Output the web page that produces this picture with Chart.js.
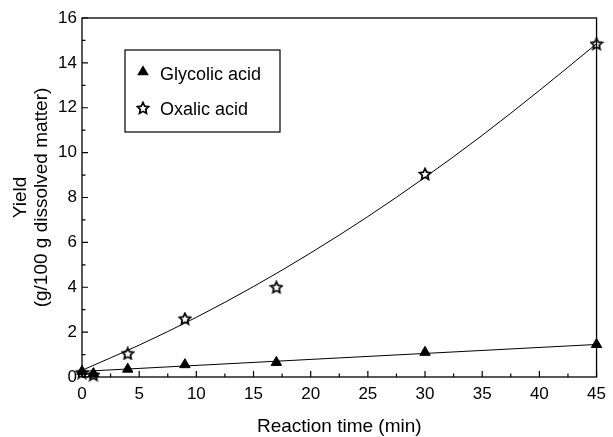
<!DOCTYPE html>
<html>
<head>
<script src="https://cdn.jsdelivr.net/npm/chart.js"></script>
<style>
  body { margin: 0; background: #fff; }
  #wrap { width: 613px; height: 437px; }
</style>
</head>
<body>
<div id="wrap"><canvas id="yieldChart" width="613" height="437"></canvas></div>
<script>
// measured points
const times = [0, 1, 4, 9, 17, 30, 45];
const glycolic = [0.25, 0.15, 0.35, 0.55, 0.65, 1.1, 1.45];
const oxalic = [0.2, 0.1, 1.05, 2.6, 4.0, 9.05, 14.85];

// fitted curves
const glycolicFitX = [0, 45];
const glycolicFitY = [0.25, 1.45];
const oxalicFitX = [0, 5, 10, 15, 20, 25, 30, 35, 40, 45];
const oxalicFitY = [0.3, 1.42, 2.66, 4.03, 5.53, 7.15, 8.9, 10.77, 12.77, 14.85];

const xMajor = [0, 5, 10, 15, 20, 25, 30, 35, 40, 45];
const xMinor = [2.5, 7.5, 12.5, 17.5, 22.5, 27.5, 32.5, 37.5, 42.5];
const yMajor = [0, 2, 4, 6, 8, 10, 12, 14, 16];
const yMinor = [1, 3, 5, 7, 9, 11, 13, 15];

const FONT = "'Liberation Sans', Arial, sans-serif";

function pts(xs, ys) {
  return xs.map((x, i) => ({ x: x, y: ys[i] }));
}

// hollow five pointed star marker
function makeStar(size) {
  const c = document.createElement("canvas");
  c.width = size; c.height = size;
  const g = c.getContext("2d");
  const cx = size / 2, cy = size / 2 + 0.5, ro = size / 2 - 1, ri = ro * 0.48;
  g.beginPath();
  for (let i = 0; i < 10; i++) {
    const r = i % 2 === 0 ? ro : ri;
    const a = -Math.PI / 2 + i * Math.PI / 5;
    const px = cx + r * Math.cos(a), py = cy + r * Math.sin(a);
    if (i === 0) g.moveTo(px, py); else g.lineTo(px, py);
  }
  g.closePath();
  g.lineWidth = 1.7;
  g.strokeStyle = "#000";
  g.stroke();
  return c;
}
const star = makeStar(14);

// inner ticks, frame and legend box
const framePlugin = {
  id: "frame",
  afterDraw(chart) {
    const ctx = chart.ctx;
    const a = chart.chartArea;
    const xs = chart.scales.x, ys = chart.scales.y;
    ctx.save();
    ctx.strokeStyle = "#000";
    ctx.lineWidth = 1.3;
    ctx.strokeRect(a.left, a.top, a.right - a.left, a.bottom - a.top);
    ctx.lineWidth = 1.2;
    ctx.beginPath();
    xMajor.forEach(v => { const p = xs.getPixelForValue(v); ctx.moveTo(p, a.bottom); ctx.lineTo(p, a.bottom - 6); });
    xMinor.forEach(v => { const p = xs.getPixelForValue(v); ctx.moveTo(p, a.bottom); ctx.lineTo(p, a.bottom - 3.5); });
    yMajor.forEach(v => { const p = ys.getPixelForValue(v); ctx.moveTo(a.left, p); ctx.lineTo(a.left + 6, p); });
    yMinor.forEach(v => { const p = ys.getPixelForValue(v); ctx.moveTo(a.left, p); ctx.lineTo(a.left + 3.5, p); });
    ctx.stroke();

    // legend
    const bx = 125, by = 50, bw = 155, bh = 82;
    ctx.lineWidth = 1.2;
    ctx.strokeRect(bx, by, bw, bh);
    ctx.fillStyle = "#000";
    ctx.font = "18px " + FONT;
    ctx.textBaseline = "middle";
    Chart.helpers.drawPoint(ctx, { pointStyle: "triangle", radius: 5.5, borderWidth: 1 }, bx + 18, by + 22);
    ctx.fillStyle = "#000";
    ctx.fillText("Glycolic acid", bx + 35, by + 25);
    ctx.drawImage(star, bx + 18 - 7, by + 58 - 7);
    ctx.fillText("Oxalic acid", bx + 35, by + 60);
    ctx.restore();
  }
};

const chart = new Chart(document.getElementById("yieldChart"), {
  type: "scatter",
  data: {
    datasets: [
      {
        label: "Glycolic acid",
        data: pts(times, glycolic),
        pointStyle: "triangle",
        pointRadius: 6,
        backgroundColor: "#000",
        borderColor: "#000",
        borderWidth: 1,
        clip: false
      },
      {
        label: "Oxalic acid",
        data: pts(times, oxalic),
        pointStyle: star,
        pointRadius: 7,
        clip: false
      },
      {
        label: "Glycolic fit",
        data: pts(glycolicFitX, glycolicFitY),
        showLine: true,
        pointRadius: 0,
        borderColor: "#000",
        borderWidth: 1
      },
      {
        label: "Oxalic fit",
        data: pts(oxalicFitX, oxalicFitY),
        showLine: true,
        pointRadius: 0,
        borderColor: "#000",
        borderWidth: 1,
        cubicInterpolationMode: "monotone"
      }
    ]
  },
  options: {
    responsive: false,
    animation: false,
    layout: { padding: { top: 18, right: 12, left: 0, bottom: 0 } },
    plugins: { legend: { display: false }, tooltip: { enabled: false } },
    scales: {
      x: {
        type: "linear",
        min: 0, max: 45,
        afterBuildTicks: s => { s.ticks = xMajor.map(v => ({ value: v })); },
        afterFit: s => { s.height = 60; },
        grid: { display: false, drawTicks: false },
        border: { display: false },
        ticks: { color: "#000", padding: 7, font: { family: FONT, size: 17 }, maxRotation: 0 },
        title: { display: true, text: "Reaction time (min)", color: "#000", font: { family: FONT, size: 19, lineHeight: 1.1 }, padding: { top: 0, bottom: 0 } }
      },
      y: {
        type: "linear",
        min: 0, max: 16,
        afterBuildTicks: s => { s.ticks = yMajor.map(v => ({ value: v })); },
        afterFit: s => { s.width = 82; },
        grid: { display: false, drawTicks: false },
        border: { display: false },
        ticks: { color: "#000", padding: 5, font: { family: FONT, size: 17 } },
        title: { display: true, text: ["Yield", "(g/100 g dissolved matter)"], color: "#000", font: { family: FONT, size: 19, lineHeight: 1.1 }, padding: { top: 10, bottom: 0 } }
      }
    }
  },
  plugins: [framePlugin]
});
</script>
</body>
</html>
